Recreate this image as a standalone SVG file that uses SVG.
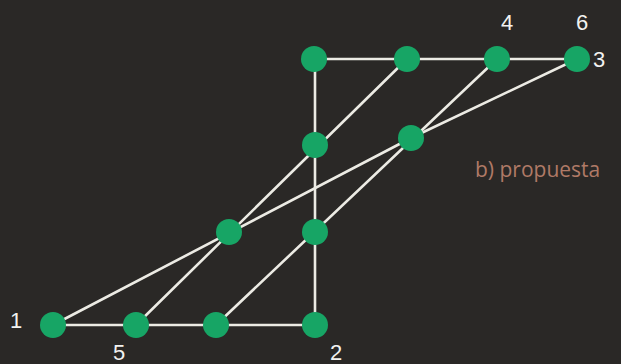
<svg xmlns="http://www.w3.org/2000/svg" width="621" height="364" viewBox="0 0 621 364">
<style>
.e{stroke:#ecebe4;stroke-width:2.6;fill:none;stroke-linecap:round}
.n{fill:#17a565}
.l{fill:#f2f2f0;font-family:"Liberation Sans",Arial,sans-serif;font-size:22px}
.c{fill:#b07a66;font-family:"Open Sans",sans-serif;font-size:21px}
</style>
<rect width="621" height="364" fill="#2a2826"/>
<g id="connectors">
<line class="e" x1="314" y1="59" x2="577" y2="59"/>
<line class="e" x1="315" y1="59" x2="315" y2="325"/>
<line class="e" x1="53" y1="325" x2="315" y2="325"/>
<line class="e" x1="407" y1="59" x2="136" y2="325"/>
<line class="e" x1="497" y1="59" x2="216" y2="325"/>
<line class="e" x1="577" y1="59" x2="411" y2="138"/>
<line class="e" x1="411" y1="138" x2="53" y2="325"/>
</g>
<g id="n1"><circle class="n" cx="53" cy="325" r="13"/><text class="l" x="10" y="328">1</text></g>
<g id="n5"><circle class="n" cx="136" cy="325" r="13"/><text class="l" x="113" y="360">5</text></g>
<g id="n7"><circle class="n" cx="216" cy="325" r="13"/></g>
<g id="n2"><circle class="n" cx="315" cy="325" r="13"/><text class="l" x="330" y="360">2</text></g>
<g id="n8"><circle class="n" cx="229" cy="232" r="13"/></g>
<g id="n9"><circle class="n" cx="315" cy="232" r="13"/></g>
<g id="n10"><circle class="n" cx="315" cy="145" r="13"/></g>
<g id="n11"><circle class="n" cx="411" cy="138" r="13"/></g>
<g id="n12"><circle class="n" cx="314" cy="59" r="13"/></g>
<g id="n13"><circle class="n" cx="407" cy="59" r="13"/></g>
<g id="n4"><circle class="n" cx="497" cy="59" r="13"/><text class="l" x="501" y="30">4</text></g>
<g id="n6"><circle class="n" cx="577" cy="59" r="13"/><text class="l" x="576" y="30">6</text><text class="l" x="593" y="67">3</text></g>
<text class="c" x="475" y="177">b) propuesta</text>
</svg>
